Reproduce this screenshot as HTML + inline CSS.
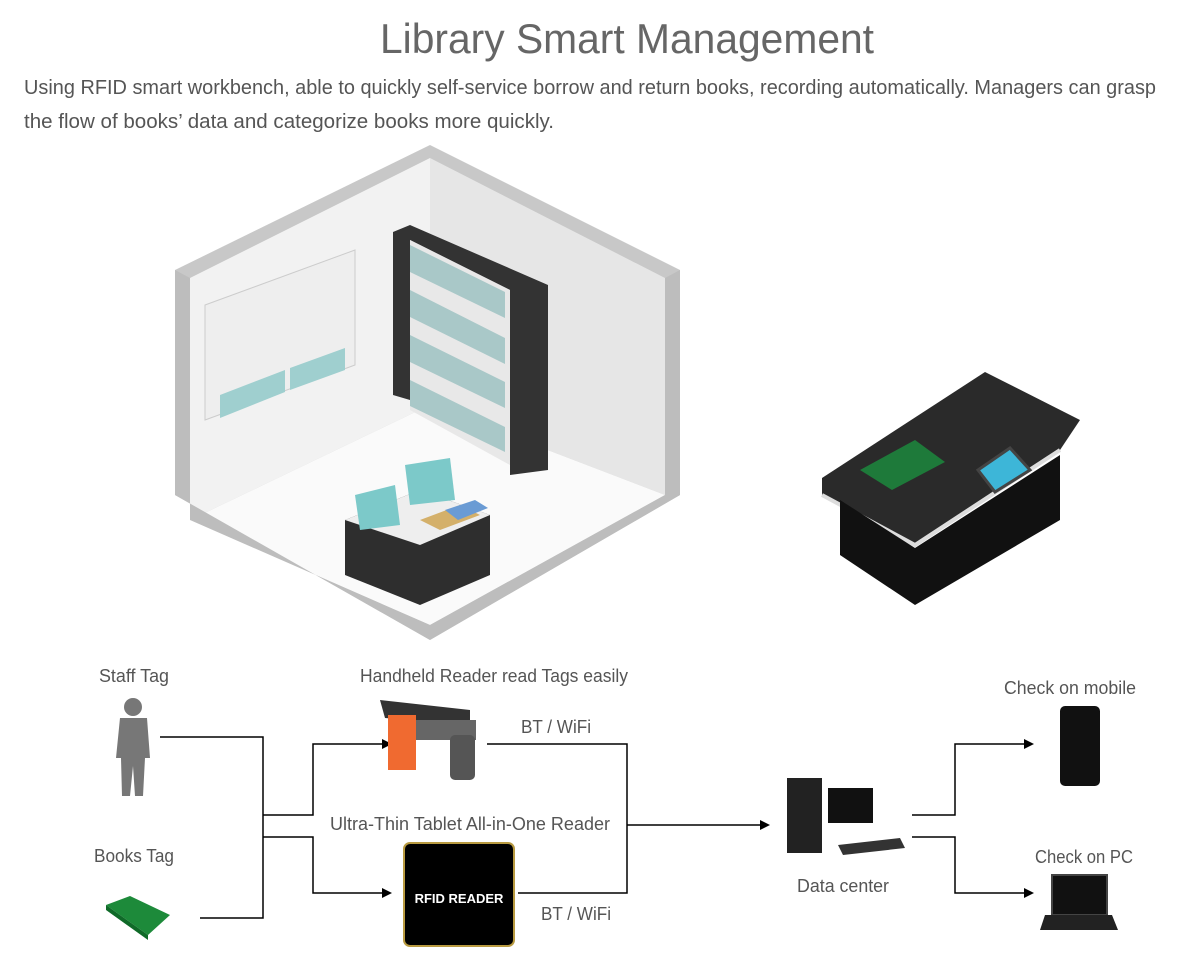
<!DOCTYPE html>
<html><head><meta charset="utf-8"><style>
body{margin:0;background:#fff;width:1200px;height:954px;overflow:hidden;font-family:"Liberation Sans",sans-serif;}
svg{position:absolute;left:0;top:0}
</style></head><body>
<svg width="1200" height="954" viewBox="0 0 1200 954" font-family="Liberation Sans, sans-serif">
<text x="627" y="53" text-anchor="middle" font-size="42" fill="#666" textLength="494" lengthAdjust="spacingAndGlyphs">Library Smart Management</text>
<text x="24" y="94" font-size="20" fill="#555" textLength="1132" lengthAdjust="spacingAndGlyphs">Using RFID smart workbench, able to quickly self-service borrow and return books, recording automatically. Managers can grasp</text>
<text x="24" y="128" font-size="20" fill="#555" textLength="530" lengthAdjust="spacingAndGlyphs">the flow of books’     data and categorize books more quickly.</text>

<!-- room -->
<polygon points="175,270 430,145 680,270 680,495 430,640 175,495" fill="#c8c8c8"/>
<polygon points="190,278 430,158 430,405 190,520" fill="#f2f2f2"/>
<polygon points="430,158 665,278 665,495 430,405" fill="#e6e6e6"/>
<polygon points="190,520 430,405 665,495 430,625" fill="#fafafa"/>
<polygon points="175,270 190,278 190,520 430,625 665,495 665,278 680,270 680,495 430,640 175,495" fill="#bdbdbd"/>
<!-- window -->
<polygon points="205,305 355,250 355,365 205,420" fill="#eee" stroke="#ccc"/>
<polygon points="220,395 285,370 285,392 220,418" fill="#9fcfcf"/>
<polygon points="290,368 345,348 345,370 290,390" fill="#9fcfcf"/>
<!-- shelf -->
<polygon points="393,232 410,225 548,285 548,470 510,475 510,290 410,240 410,400 393,395" fill="#333"/>
<polygon points="410,240 510,290 510,465 410,410" fill="#e8e8e8"/>
<g fill="#a9c8c8"><polygon points="410,245 505,292 505,318 410,272"/><polygon points="410,290 505,338 505,364 410,317"/><polygon points="410,335 505,382 505,408 410,362"/><polygon points="410,380 505,427 505,452 410,406"/></g>
<!-- table -->
<polygon points="345,520 420,490 490,515 490,575 420,605 345,575" fill="#2e2e2e"/>
<polygon points="345,520 420,490 490,515 420,545" fill="#eee"/>
<polygon points="355,495 395,485 400,525 360,530" fill="#7cc9c9"/>
<polygon points="405,465 450,458 455,500 410,505" fill="#7cc9c9"/>
<polygon points="420,520 460,505 480,515 440,530" fill="#d4b06a"/>
<polygon points="445,510 475,500 488,508 458,520" fill="#6a9bd4"/>
<!-- workbench -->
<polygon points="822,478 985,372 1080,420 1060,450 915,545 822,495" fill="#2a2a2a"/>
<polyline points="822,495 915,545 1060,450" fill="none" stroke="#ddd" stroke-width="4"/>
<polygon points="840,500 915,548 1060,455 1060,520 915,605 840,555" fill="#111"/>
<polygon points="860,470 915,440 945,462 892,490" fill="#1e7a3a"/>
<polygon points="978,470 1010,448 1030,470 995,492" fill="#3db6d8" stroke="#444" stroke-width="3"/>

<!-- connectors -->
<g stroke="#000" stroke-width="1.5" fill="none">
<polyline points="160,737 263,737 263,918 200,918"/>
<polyline points="263,815 313,815 313,744 384,744"/>
<polyline points="263,837 313,837 313,893 384,893"/>
<polyline points="487,744 627,744 627,893 518,893"/>
<polyline points="627,825 762,825"/>
<polyline points="912,815 955,815 955,744 1026,744"/>
<polyline points="912,837 955,837 955,893 1026,893"/>
</g>
<g fill="#000">
<polygon points="392,744 382,739 382,749"/><polygon points="392,893 382,888 382,898"/>
<polygon points="770,825 760,820 760,830"/><polygon points="1034,744 1024,739 1024,749"/><polygon points="1034,893 1024,888 1024,898"/>
</g>

<g font-size="18" fill="#555">
<text x="134" y="682" text-anchor="middle" textLength="70" lengthAdjust="spacingAndGlyphs">Staff Tag</text>
<text x="134" y="862" text-anchor="middle" textLength="80" lengthAdjust="spacingAndGlyphs">Books Tag</text>
<text x="494" y="682" text-anchor="middle" textLength="268" lengthAdjust="spacingAndGlyphs">Handheld Reader read Tags easily</text>
<text x="556" y="733" text-anchor="middle" textLength="70" lengthAdjust="spacingAndGlyphs">BT / WiFi</text>
<text x="470" y="830" text-anchor="middle" textLength="280" lengthAdjust="spacingAndGlyphs">Ultra-Thin Tablet All-in-One Reader</text>
<text x="576" y="920" text-anchor="middle" textLength="70" lengthAdjust="spacingAndGlyphs">BT / WiFi</text>
<text x="843" y="892" text-anchor="middle" textLength="92" lengthAdjust="spacingAndGlyphs">Data center</text>
<text x="1070" y="694" text-anchor="middle" textLength="132" lengthAdjust="spacingAndGlyphs">Check on mobile</text>
<text x="1084" y="863" text-anchor="middle" textLength="98" lengthAdjust="spacingAndGlyphs">Check on PC</text>
</g>
<!-- person -->
<g fill="#777"><circle cx="133" cy="707" r="9"/><path d="M120,718 h27 l3,40 h-5 l-2,38 h-8 l-2,-30 l-3,30 h-8 l-1,-38 h-5z"/></g>
<!-- book -->
<polygon points="106,905 130,896 170,915 148,935" fill="#1d8a3a"/><polygon points="106,905 148,935 148,940 106,910" fill="#0f6a28"/>
<!-- handheld -->
<polygon points="380,700 470,710 470,725 385,718" fill="#333"/>
<rect x="388" y="715" width="28" height="55" fill="#f06a30"/>
<rect x="416" y="720" width="60" height="20" fill="#666"/>
<rect x="450" y="735" width="25" height="45" rx="5" fill="#555"/>
<!-- rfid reader -->
<rect x="404" y="843" width="110" height="103" rx="6" fill="#000" stroke="#b89a40" stroke-width="2"/>
<text x="459" y="903" text-anchor="middle" font-size="13" font-weight="bold" fill="#fff">RFID READER</text>
<!-- computer -->
<rect x="787" y="778" width="35" height="75" fill="#222"/>
<rect x="828" y="788" width="45" height="35" fill="#111"/>
<polygon points="838,845 900,838 905,848 843,855" fill="#333"/>
<!-- phone -->
<rect x="1060" y="706" width="40" height="80" rx="5" fill="#111"/>
<!-- laptop -->
<rect x="1052" y="875" width="55" height="40" fill="#111" stroke="#444" stroke-width="2"/>
<polygon points="1045,915 1112,915 1118,930 1040,930" fill="#222"/>
</svg>
</body></html>
